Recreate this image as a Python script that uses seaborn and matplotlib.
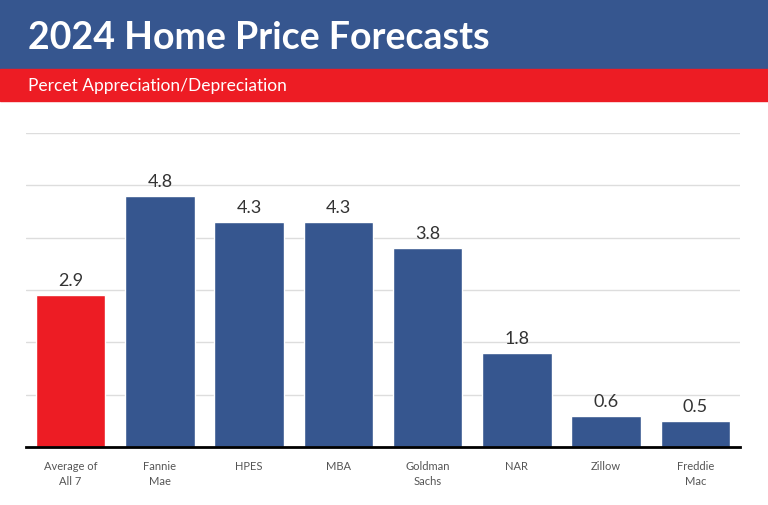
import matplotlib
matplotlib.use("Agg")
import matplotlib.pyplot as plt
import pandas as pd
import seaborn as sns
from matplotlib.patches import Rectangle

# forecast data
forecasters = ["Average of\nAll 7", "Fannie\nMae", "HPES", "MBA", "Goldman\nSachs", "NAR", "Zillow", "Freddie\nMac"]
appreciation = [2.9, 4.8, 4.3, 4.3, 3.8, 1.8, 0.6, 0.5]

blue = "#36568F"
red = "#ED1C24"
bar_colors = [red] + [blue] * 7

df = pd.DataFrame({"forecaster": forecasters, "pct": appreciation})

sns.set_style("white")
plt.rcParams["font.family"] = ["Lato", "DejaVu Sans"]

fig = plt.figure(figsize=(7.68, 5.06), dpi=100)

# header bands
fig.patches.append(Rectangle((0, 1 - 70 / 506), 1, 70 / 506, transform=fig.transFigure, color=blue, zorder=0))
fig.patches.append(Rectangle((0, 1 - 102 / 506), 1, 32 / 506, transform=fig.transFigure, color=red, zorder=0))
fig.text(28 / 768, 1 - 38 / 506, "2024 Home Price Forecasts", color="white", fontsize=27,
         fontweight="bold", va="center", ha="left")
fig.text(28 / 768, 1 - 86 / 506, "Percet Appreciation/Depreciation", color="white", fontsize=12.5,
         va="center", ha="left")

ax = fig.add_axes([26 / 768, 1 - 448 / 506, 714 / 768, 314 / 506])
sns.barplot(data=df, x="forecaster", y="pct", hue="forecaster", palette=bar_colors,
            legend=False, width=0.78, saturation=1, ax=ax)

for p, v in zip(ax.patches, appreciation):
    ax.annotate(f"{v}", (p.get_x() + p.get_width() / 2., p.get_height()), ha="center", va="bottom",
                xytext=(0, 5), textcoords="offset points", fontsize=13, color="#333333")

ax.set_ylim(0, 6)
ax.set_xlim(-0.5, len(forecasters) - 0.5)
ax.set_yticks([1, 2, 3, 4, 5, 6])
ax.yaxis.grid(True, color="#DDDDDD", linewidth=1)
ax.set_axisbelow(True)
ax.tick_params(axis="y", left=False, labelleft=False)
ax.tick_params(axis="x", bottom=False, labelsize=8, labelcolor="#555555", pad=6)
for lbl in ax.get_xticklabels():
    lbl.set_linespacing(1.4)
ax.set_xlabel("")
ax.set_ylabel("")
for s in ["top", "right", "left"]:
    ax.spines[s].set_visible(False)
ax.spines["bottom"].set_color("black")
ax.spines["bottom"].set_linewidth(2)

fig.savefig("out.png", dpi=100)
